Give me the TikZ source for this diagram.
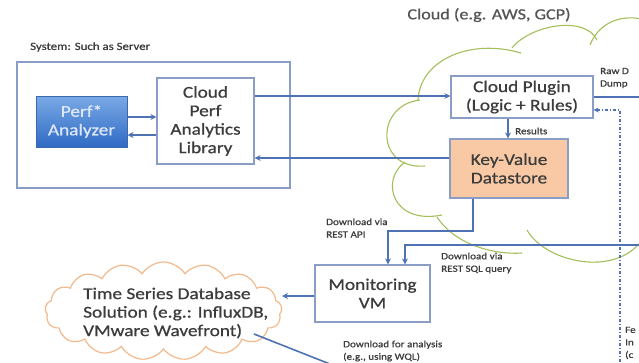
\documentclass[tikz,border=0pt]{standalone}
\usepackage{fontspec}
\setmainfont{Carlito}[FakeStretch=1.17,FakeBold=0.7]
\usetikzlibrary{shapes.symbols,arrows.meta}
\definecolor{ln}{HTML}{4E72B3}
\definecolor{bx}{HTML}{8A9DC6}
\definecolor{tx}{HTML}{3C3C3C}
\definecolor{kvfill}{HTML}{F8C9A4}
\definecolor{gr}{HTML}{A3BF5A}
\definecolor{orl}{HTML}{F2B98C}
\newcommand\fbig{\fontsize{16.5}{18.5}\selectfont}
\newcommand\fsmall{\fontsize{9.5}{12.5}\selectfont}
\newcommand\fmid{\fontsize{11}{13}\selectfont}
\begin{document}
\begin{tikzpicture}[x=1pt,y=-1pt,
  box/.style={draw=bx, line width=1.2pt, fill=white, align=center, text=tx, inner sep=0pt, font=\fbig},
  conn/.style={draw=ln, line width=1.6pt, -{Stealth[length=6pt,width=6pt]}},
  plain/.style={draw=ln, line width=1.6pt},
  lbl/.style={text=tx, inner sep=0pt, align=left, font=\fsmall},
  arc/.style={draw=gr, line width=1.1pt}]
\useasboundingbox (0,0) rectangle (639,362);
\clip (0,0) rectangle (639,362);
\fill[white] (0,0) rectangle (639,362);

% green cloud arcs
\draw[arc] (418,100) .. controls (420,60) and (470,38) .. (521,53);
\draw[arc] (512,48) .. controls (530,25) and (585,15) .. (597,40);
\draw[arc] (590,45) .. controls (600,20) and (625,14) .. (645,20);
\draw[arc] (420,100) .. controls (375,105) and (375,170) .. (425,166);
\draw[arc] (405,162) .. controls (380,180) and (392,225) .. (442,215);
\draw[arc] (437,217) .. controls (455,245) and (495,255) .. (522,253);
\draw[arc] (527,230) .. controls (545,262) and (615,278) .. (642,240);

% system
\node[draw=bx, line width=1.2pt, minimum width=273, minimum height=126, inner sep=0pt] (sys) at (153.5,125) {};
\node[text=tx, inner sep=0pt, anchor=west, font=\fmid] (syslbl) at (30,47) {System: Such as Server};

\node[draw={rgb,255:red,59;green,105;blue,174}, line width=1pt, top color={rgb,255:red,122;green,169;blue,230}, bottom color={rgb,255:red,47;green,106;blue,196}, minimum width=91, minimum height=51, inner sep=0pt, align=center, text={rgb,255:red,220;green,232;blue,250}, font=\fbig] (perf) at (81.5,121.5) {Perf*\\Analyzer};
\node[box, minimum width=97, minimum height=86] (lib) at (205.5,121) {Cloud\\Perf\\Analytics\\Library};

% cloud
\node[text={rgb,255:red,85;green,85;blue,85}, inner sep=0pt, font=\fontsize{15.5}{18}\selectfont] (cloudlbl) at (489,15) {Cloud (e.g. AWS, GCP)};
\node[box, minimum width=142, minimum height=42] (plug) at (522,97) {Cloud Plugin\\(Logic + Rules)};
\node[box, fill=kvfill, minimum width=118, minimum height=59] (kv) at (509,168.5) {Key-Value\\Datastore};
\node[box, minimum width=115, minimum height=57] (vm) at (372.5,293.5) {Monitoring\\VM};

% time series cloud
\node[cloud, draw=orl, line width=1.2pt, fill=white, cloud puffs=17, cloud puff arc=115, cloud ignores aspect, minimum width=237, minimum height=98, inner sep=0pt] (ts) at (163.5,311) {};
\node[lbl, font=\fbig, anchor=west] (tstext) at (83,313) {Time Series Database\\Solution (e.g.: InfluxDB,\\VMware Wavefront)};

% connectors
\draw[conn] (perf.east |- 0,117) -- (lib.west |- 0,117);
\draw[conn] (lib.west |- 0,135) -- (perf.east |- 0,135);
\draw[conn] (lib.east |- 0,96) -- (plug.west |- 0,96);
\draw[conn] (kv.west |- 0,158) -- (lib.east |- 0,158);
\draw[conn] (plug.south -| 508,0) -- (kv.north -| 508,0);
\node[lbl, anchor=west] (reslbl) at (515,131) {Results};

\coordinate (rawR) at (645,97);
\draw[plain] (plug.east |- 0,97) -- (rawR);
\node[lbl, anchor=west] (rawlbl) at (600,78) {Raw D\\Dump};

\coordinate (dbot) at (620,370);
\draw[draw=ln, line width=1.2pt, dash pattern=on 3pt off 2pt on 1pt off 2pt, -{Stealth[length=5pt,width=5pt]}] (dbot) -- (620,110) -- (plug.east |- 0,110);
\node[lbl, anchor=west] (felbl) at (625,343) {Fe\\In\\(c};

\draw[conn] (kv.south -| 473,0) -- (473,231) -- (388,231) -- (vm.north -| 388,0);
\node[lbl, anchor=west] (apilbl) at (326,228) {Download via\\REST API};

\coordinate (sqlR) at (645,245);
\draw[conn] (sqlR) -- (405,245) -- (vm.north -| 405,0);
\node[lbl, anchor=west] (sqllbl) at (441,263) {Download via\\REST SQL query};

\draw[conn] (vm.west |- 0,296) -- (282,296);
\coordinate (tsout) at (254,334);
\coordinate (dlend) at (335,366);
\draw[plain] (tsout) -- (dlend);
\node[lbl, anchor=west] (dllbl) at (343,351) {Download for analysis\\(e.g., using WQL)};
\end{tikzpicture}
\end{document}
